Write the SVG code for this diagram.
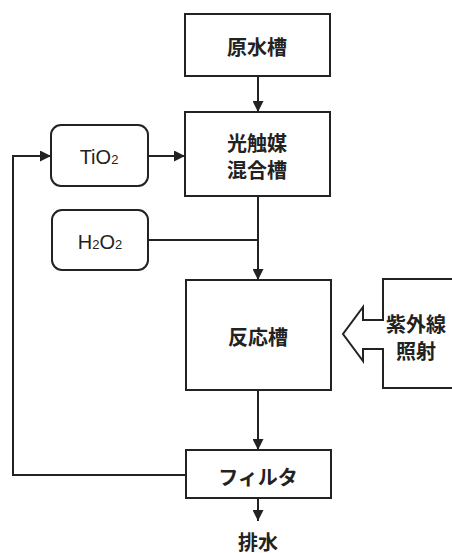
<svg xmlns="http://www.w3.org/2000/svg" width="452" height="553" viewBox="0 0 452 553">
<style>
.box{fill:#fff;stroke:#222;stroke-width:2}
.ln{fill:none;stroke:#222;stroke-width:2}
.t{font-family:"Liberation Sans","Noto Sans CJK JP",sans-serif;font-size:20px;font-weight:bold;fill:#222;text-anchor:middle}
.n{font-weight:normal}
.s{font-size:13px}
</style>
<defs>
<marker id="ah" viewBox="0 0 10 10" refX="10" refY="5" markerWidth="11" markerHeight="11" markerUnits="userSpaceOnUse" orient="auto">
<path d="M0,0 L10,5 L0,10 z" fill="#222"/>
</marker>
</defs>
<rect width="452" height="553" fill="#fff"/>
<g id="connectors">
<line class="ln" x1="258" y1="76" x2="258" y2="112" marker-end="url(#ah)"/>
<line class="ln" x1="148" y1="156" x2="185" y2="156" marker-end="url(#ah)"/>
<line class="ln" x1="148" y1="240" x2="258" y2="240"/>
<line class="ln" x1="258" y1="196" x2="258" y2="280" marker-end="url(#ah)"/>
<line class="ln" x1="258" y1="390" x2="258" y2="450" marker-end="url(#ah)"/>
<line class="ln" x1="258" y1="498" x2="258" y2="521" marker-end="url(#ah)"/>
<polyline class="ln" points="186,475 13,475 13,156 51,156" marker-end="url(#ah)"/>
</g>
<g id="n-gensui"><rect class="box" x="185" y="14" width="145" height="62"/><text class="t" x="257" y="55">原水槽</text></g>
<g id="n-mix"><rect class="box" x="185" y="112" width="145" height="84"/><text class="t" x="257" y="151">光触媒</text><text class="t" x="257" y="178">混合槽</text></g>
<g id="n-tio2"><rect class="box" x="51" y="125" width="97" height="61" rx="10"/><text class="t n" x="99" y="164">TiO<tspan class="s">2</tspan></text></g>
<g id="n-h2o2"><rect class="box" x="52" y="210" width="96" height="60" rx="10"/><text class="t n" x="100" y="249">H<tspan class="s">2</tspan>O<tspan class="s">2</tspan></text></g>
<g id="n-react"><rect class="box" x="186" y="280" width="145" height="110"/><text class="t" x="258" y="345">反応槽</text></g>
<g id="n-uv"><path class="ln" d="M453,279 L383,279 L383,320 L363,320 L363,307 L343,334 L363,361 L363,349 L383,349 L383,388 L453,388" style="fill:#fff"/><text class="t" x="416" y="332">紫外線</text><text class="t" x="416" y="359">照射</text></g>
<g id="n-filter"><rect class="box" x="186" y="450" width="145" height="48"/><text class="t" x="258" y="485">フィルタ</text></g>
<g id="n-drain"><text class="t" x="258" y="550">排水</text></g>
</svg>
